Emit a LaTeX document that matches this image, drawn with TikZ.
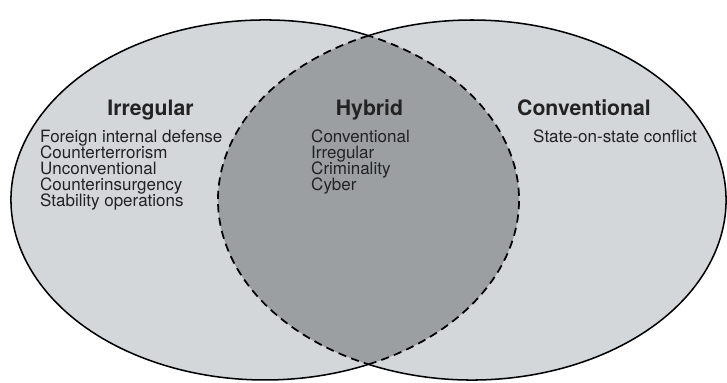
\documentclass[tikz,border=0pt]{standalone}
\usepackage{fontspec}
\setmainfont{TeX Gyre Heros}
\usepackage{xcolor}
\definecolor{setfill}{HTML}{D3D7D9}
\definecolor{hybfill}{HTML}{9B9FA2}
\definecolor{txtcol}{HTML}{222222}

\begin{document}
\begin{tikzpicture}[
    lens/.style={x radius=7.62, y radius=5.4},
    title/.style={font=\fontsize{18.1}{20}\selectfont\bfseries, text=txtcol, inner sep=0pt, anchor=base},
    item/.style={font=\fontsize{14.5}{16}\selectfont, text=txtcol, inner sep=0pt, anchor=base west},
    rim/.style={line width=1.3pt},
    seam/.style={line width=1.5pt, dash pattern=on 7pt off 4.5pt}
  ]
    \fill[white] (0,0) rectangle (21.81,11.49);
    \useasboundingbox (0,0) rectangle (21.81,11.49);

    \coordinate (l) at (7.95,5.49);
    \coordinate (r) at (14.16,5.49);
    \path (l) ++(65.95:7.62 and 5.4) coordinate (top);
    \path (l) ++(-65.95:7.62 and 5.4) coordinate (bot);

    % the two sets
    \fill[setfill] (l) ellipse[lens];
    \fill[setfill] (r) ellipse[lens];

    % overlap
    \fill[hybfill] (bot) arc[lens, start angle=-65.95, end angle=65.95]
      arc[lens, start angle=114.05, end angle=245.95] -- cycle;

    \draw[rim] (top) arc[lens, start angle=65.95, end angle=294.05];
    \draw[rim] (bot) arc[lens, start angle=-114.05, end angle=114.05];
    \draw[seam] (bot) arc[lens, start angle=-65.95, end angle=65.95];
    \draw[seam] (top) arc[lens, start angle=114.05, end angle=245.95];

    % labels
    \node[title] (irr) at (4.515,8.02) {Irregular};
    \node[title] (hyb) at (11.085,8.02) {Hybrid};
    \node[title] (conv) at (17.52,8.02) {Conventional};

    \foreach \txt [count=\i] in {Foreign internal defense, Counterterrorism,
        Unconventional, Counterinsurgency, Stability operations}
      \node[item] (irr\i) at (1.2,7.2-0.48*\i+0.48) {\txt};

    \foreach \txt [count=\i] in {Conventional, Irregular, Criminality, Cyber}
      \node[item] (hyb\i) at (9.33,7.2-0.48*\i+0.48) {\txt};

    \node[item] (conv1) at (15.99,7.2) {State-on-state conflict};
\end{tikzpicture}
\end{document}
